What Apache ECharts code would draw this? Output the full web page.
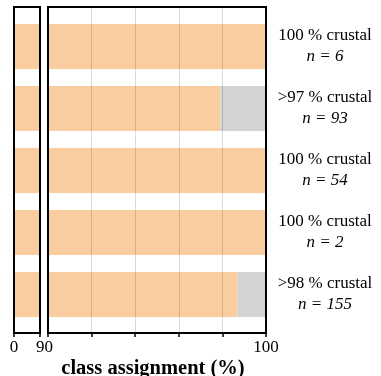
<!DOCTYPE html>
<html>
<head>
<meta charset="utf-8">
<script src="https://cdn.jsdelivr.net/npm/echarts@6/dist/echarts.min.js"></script>
<style>html,body{margin:0;padding:0;background:#fff}#c{width:381px;height:376px}</style>
</head>
<body>
<div id="c"></div>
<script>
const categories = ['100 % crustal', '>97 % crustal', '100 % crustal', '100 % crustal', '>98 % crustal'];
const nValues = [6, 93, 54, 2, 155];
const leftValues = [90, 90, 90, 90, 90];
const crustalValues = [100, 97.9, 100, 100, 98.7];
const otherValues = [0, 2.1, 0, 0, 1.3];
const leftTicks = [0, 90];
const rightTicks = [100];

const FONT = 'Liberation Serif';
const ORANGE = '#facda0';
const GREY = '#d3d3d3';

const chart = echarts.init(document.getElementById('c'), null, {renderer: 'canvas'});
const frameTop = 7, frameBottom = 376 - 333;
const barTop = 15.5, barBottom = 376 - 325.5;
const L = {left: 14, width: 26}, R = {left: 48, width: 218};

const hiddenY = (g) => ({type: 'value', gridIndex: g, show: false, min: 0, max: 1});
const labelBase = {show: true, margin: 6, color: '#000', fontFamily: FONT, fontSize: 17, verticalAlign: 'top'};

chart.setOption({
  animation: false,
  grid: [
    {left: L.left, width: L.width, top: frameTop, bottom: frameBottom, show: true, borderColor: '#000', borderWidth: 2, backgroundColor: 'transparent', z: 10},
    {left: R.left, width: R.width, top: frameTop, bottom: frameBottom, show: true, borderColor: '#000', borderWidth: 2, backgroundColor: 'transparent', z: 10},
    {left: L.left, width: L.width, top: barTop, bottom: barBottom},
    {left: R.left, width: R.width, top: barTop, bottom: barBottom}
  ],
  xAxis: [
    {type: 'value', gridIndex: 0, min: 0, max: 90, interval: 90, z: 10,
      axisLine: {show: false},
      axisTick: {show: true, inside: false, length: 4, lineStyle: {color: '#000', width: 1.5}},
      splitLine: {show: false},
      axisLabel: Object.assign({}, labelBase, {
        formatter: v => v === 90 ? '{r|90}' : (leftTicks.includes(v) ? String(v) : ''),
        rich: {r: {fontFamily: FONT, fontSize: 17, color: '#000', padding: [0, 0, 0, 9]}}})
    },
    {type: 'value', gridIndex: 1, min: 90, max: 100, interval: 2, z: 10,
      axisLine: {show: false},
      axisTick: {show: true, inside: false, length: 4, lineStyle: {color: '#000', width: 1.5}},
      splitLine: {show: true, lineStyle: {color: 'rgba(0,0,0,0.14)', width: 1}},
      axisLabel: Object.assign({}, labelBase, {
        formatter: v => rightTicks.includes(v) ? String(v) : ''})
    },
    {type: 'value', gridIndex: 2, min: 0, max: 90, show: false},
    {type: 'value', gridIndex: 3, min: 90, max: 100, show: false}
  ],
  yAxis: [
    hiddenY(0), hiddenY(1),
    {type: 'category', gridIndex: 2, data: categories, inverse: true, show: false},
    {type: 'category', gridIndex: 3, data: categories, inverse: true, position: 'right',
      axisLine: {show: false}, axisTick: {show: false}, splitLine: {show: false},
      axisLabel: {show: true, margin: 59, align: 'center',
        formatter: (v, i) => '{a|' + v + '}\n{b|n = ' + nValues[i] + '}',
        rich: {
          a: {fontFamily: FONT, fontSize: 17, color: '#000', lineHeight: 21, align: 'center'},
          b: {fontFamily: FONT, fontSize: 17, fontStyle: 'italic', color: '#000', lineHeight: 21, align: 'center'}
        }}
    }
  ],
  title: {
    text: 'class assignment (%)', left: 148, top: 353, textAlign: 'center',
    textStyle: {fontFamily: FONT, fontSize: 20.5, fontWeight: 'bold', color: '#000'}
  },
  series: [
    {type: 'bar', xAxisIndex: 2, yAxisIndex: 2, data: leftValues, barWidth: 45, itemStyle: {color: ORANGE}, silent: true},
    {type: 'bar', xAxisIndex: 3, yAxisIndex: 3, stack: 'r', data: crustalValues, barWidth: 45, itemStyle: {color: ORANGE}, silent: true},
    {type: 'bar', xAxisIndex: 3, yAxisIndex: 3, stack: 'r', data: otherValues, barWidth: 45, itemStyle: {color: GREY}, silent: true}
  ]
});
</script>
</body>
</html>
